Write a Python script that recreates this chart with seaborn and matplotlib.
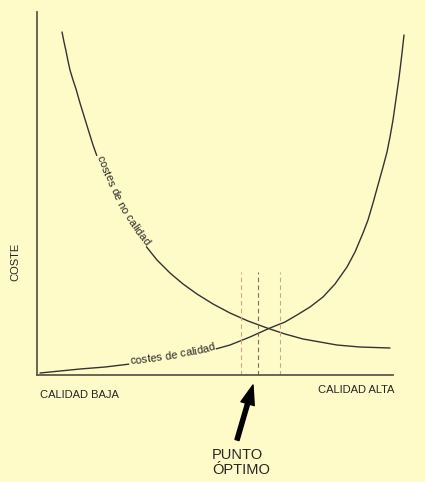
import numpy as np
import pandas as pd
import matplotlib
matplotlib.use("Agg")
import matplotlib.pyplot as plt
from matplotlib.transforms import IdentityTransform
import seaborn as sns

# puntos (eje x: calidad 0-100, eje y: coste 0-100)
calidad_no = [6.78, 7.32, 7.86, 8.40, 8.94, 9.76, 10.57, 11.65, 12.74, 13.82, 15.18, 16.53,
              17.89, 19.78, 21.95, 24.12, 26.56, 29.27, 32.52, 36.04, 39.57, 43.36, 47.70,
              52.30, 57.18, 62.33, 67.21, 72.09, 76.69, 81.30, 87.53, 95.66]
coste_no = [94.49, 91.74, 89.26, 86.50, 84.02, 81.27, 78.79, 74.93, 71.35, 67.77, 63.36, 59.50,
            55.92, 51.52, 46.83, 42.98, 39.39, 35.81, 31.68, 28.10, 25.07, 22.31, 19.56,
            17.08, 14.88, 12.95, 11.29, 9.92, 9.09, 8.26, 7.71, 7.44]

calidad_si = [0.81, 6.23, 11.65, 18.43, 25.20, 31.98, 38.75, 45.53, 52.30, 57.72, 63.14, 67.21,
              70.46, 73.98, 77.51, 80.76, 84.01, 86.18, 88.35, 89.70, 91.06, 92.41, 93.77,
              94.85, 95.66, 96.48, 97.02, 97.56, 98.10, 98.37, 98.92, 99.46]
coste_si = [0.55, 1.10, 1.65, 2.20, 3.03, 3.86, 4.96, 6.34, 8.26, 10.47, 12.95, 14.60,
            16.53, 18.73, 21.49, 25.07, 29.75, 33.88, 39.12, 42.70, 47.38, 52.34, 57.30,
            61.43, 65.56, 70.25, 74.10, 77.96, 81.82, 84.02, 88.71, 93.66]

zona_optima = [55.3, 59.9, 65.9]
tope_zona = 28.4

fondo = "#fffbc8"

sns.set_style("white", {"axes.facecolor": fondo, "figure.facecolor": fondo})
plt.rcParams["font.family"] = ["Liberation Sans", "DejaVu Sans"]

fig = plt.figure(figsize=(4.25, 4.82), dpi=100)
ax = fig.add_axes([37 / 425, (482 - 375) / 482, 369 / 425, 363 / 482])

df_no = pd.DataFrame({"calidad": calidad_no, "coste": coste_no})
df_si = pd.DataFrame({"calidad": calidad_si, "coste": coste_si})
sns.lineplot(data=df_no, x="calidad", y="coste", color="#333333", lw=1.0, ax=ax, sort=False)
sns.lineplot(data=df_si, x="calidad", y="coste", color="#333333", lw=1.0, ax=ax, sort=False)

# zona del punto optimo
colores_zona = ["#c8aa80", "#7a6e58", "#c8aa80"]
for xv, c in zip(zona_optima, colores_zona):
    ax.vlines(xv, 0, tope_zona, colors=c, linestyles=(0, (4, 3)), lw=0.8)

ax.set_xlim(0, 100)
ax.set_ylim(0, 100)
ax.set_xlabel("")
ax.set_ylabel("")
ax.set_xticks([])
ax.set_yticks([])
sns.despine(ax=ax)
for s in ["left", "bottom"]:
    ax.spines[s].set_color("#5b5b4b")
    ax.spines[s].set_linewidth(1.3)
ax.spines["bottom"].set_bounds(0, 96.5)


def texto_en_curva(xs, ys, texto, x_inicio, size=8, desplaz=0.0):
    # coloca cada letra sobre la curva, siguiendo su tangente
    fig.canvas.draw()
    r = fig.canvas.get_renderer()
    pts = ax.transData.transform(np.column_stack([xs, ys]))
    seg = np.diff(pts, axis=0)
    lon = np.hypot(seg[:, 0], seg[:, 1])
    acum = np.concatenate([[0], np.cumsum(lon)])
    x0 = ax.transData.transform((x_inicio, 0))[0]
    s = np.interp(x0, pts[:, 0], acum)
    ancho_esp = size * 0.278 * fig.dpi / 72
    for ch in texto:
        kw = dict(fontsize=size, transform=IdentityTransform(), ha="center",
                  va="baseline", rotation_mode="anchor")
        t = ax.text(0, 0, ch, zorder=5, **kw)
        w = ancho_esp if ch == " " else t.get_window_extent(renderer=r).width
        sm = s + w / 2
        i = min(max(np.searchsorted(acum, sm) - 1, 0), len(lon) - 1)
        f = (sm - acum[i]) / lon[i]
        p = pts[i] + f * seg[i]
        nrm = np.array([-seg[i, 1], seg[i, 0]]) / lon[i]
        p = p + nrm * desplaz
        ang = np.degrees(np.arctan2(seg[i, 1], seg[i, 0]))
        t.set_position(p)
        t.set_rotation(ang)
        # fondo que tapa la curva debajo de la letra
        ax.text(p[0], p[1], ch if ch != " " else "n", color=fondo, rotation=ang, zorder=4,
                bbox=dict(facecolor=fondo, edgecolor="none", pad=0.6), **kw)
        s += w


texto_en_curva(calidad_no, coste_no, "costes de no calidad", 16.3, size=8, desplaz=-0.5)
texto_en_curva(calidad_si, coste_si, "costes de calidad", 25.2, size=8, desplaz=-0.5)

fig.text(15 / 425, 1 - 262 / 482, "COSTE", rotation=90, ha="center", va="center", fontsize=8)
fig.text(40 / 425, 1 - 395 / 482, "CALIDAD BAJA", ha="left", va="center", fontsize=8)
fig.text(318 / 425, 1 - 390 / 482, "CALIDAD ALTA", ha="left", va="center", fontsize=8)
fig.text(212 / 425, 1 - 448 / 482, "PUNTO\nÓPTIMO", ha="left", va="top", fontsize=10.5,
         multialignment="left", linespacing=1.05)

ax.annotate("", xy=(253 / 425, 1 - 385 / 482), xycoords="figure fraction",
            xytext=(237 / 425, 1 - 440 / 482), textcoords="figure fraction",
            arrowprops=dict(facecolor="black", edgecolor="black", width=3, headwidth=10,
                            headlength=14, shrink=0))

fig.savefig("out.png", dpi=100, facecolor=fondo)
